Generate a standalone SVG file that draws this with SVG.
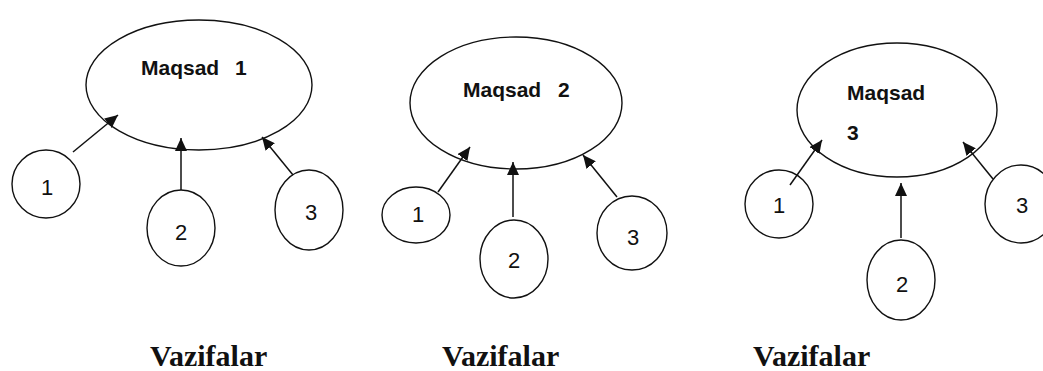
<svg xmlns="http://www.w3.org/2000/svg" width="1043" height="371" viewBox="0 0 1043 371">
<style>
.shape{fill:#fff;stroke:#111;stroke-width:1.4}
.goal{font-family:"Liberation Sans",Arial,sans-serif;font-weight:bold;font-size:21px;fill:#111}
.num{font-family:"Liberation Sans",Arial,sans-serif;font-size:22px;fill:#111;text-anchor:middle}
.cap{font-family:"Liberation Serif","Times New Roman",serif;font-weight:bold;font-size:30px;fill:#111}
.conn{stroke:#111;stroke-width:1.5;fill:none;marker-end:url(#ah)}
</style>
<defs>
<marker id="ah" markerUnits="userSpaceOnUse" markerWidth="14" markerHeight="12" refX="13" refY="6" orient="auto">
<path d="M0,0 L13,6 L0,12 Z" fill="#111"/>
</marker>
</defs>
<rect width="1043" height="371" fill="#fff"/>
<g id="goal1"><ellipse class="shape" cx="199" cy="85" rx="113" ry="65"/><text class="goal" x="141" y="75">Maqsad</text><text class="goal" x="235" y="75" font-size="23">1</text></g>
<g id="goal2"><ellipse class="shape" cx="516" cy="103" rx="106" ry="66"/><text class="goal" x="463" y="97">Maqsad</text><text class="goal" x="558" y="97" font-size="23">2</text></g>
<g id="goal3"><ellipse class="shape" cx="897" cy="110" rx="100" ry="67"/><text class="goal" x="847" y="100">Maqsad</text><text class="goal" x="847" y="140">3</text></g>
<g id="g1t1"><ellipse class="shape" cx="46" cy="184" rx="34" ry="34"/><text class="num" x="47" y="195">1</text></g>
<g id="g1t2"><ellipse class="shape" cx="181" cy="228" rx="34" ry="38"/><text class="num" x="181" y="240">2</text></g>
<g id="g1t3"><ellipse class="shape" cx="309" cy="210" rx="34" ry="40"/><text class="num" x="311" y="220">3</text></g>
<g id="g2t1"><ellipse class="shape" cx="416" cy="215" rx="34" ry="28"/><text class="num" x="418" y="222">1</text></g>
<g id="g2t2"><ellipse class="shape" cx="514" cy="259" rx="34" ry="39"/><text class="num" x="514" y="268">2</text></g>
<g id="g2t3"><ellipse class="shape" cx="632" cy="233" rx="35" ry="37"/><text class="num" x="633" y="245">3</text></g>
<g id="g3t1"><ellipse class="shape" cx="779" cy="204" rx="34" ry="34"/><text class="num" x="779" y="213">1</text></g>
<g id="g3t2"><ellipse class="shape" cx="901" cy="280" rx="34" ry="40"/><text class="num" x="902" y="292">2</text></g>
<g id="g3t3"><ellipse class="shape" cx="1021" cy="204" rx="36" ry="39"/><text class="num" x="1022" y="213">3</text></g>
<g id="connectors">
<line class="conn" x1="73" y1="152" x2="118" y2="115"/>
<line class="conn" x1="181" y1="190" x2="181" y2="138"/>
<line class="conn" x1="293" y1="175" x2="262" y2="137"/>
<line class="conn" x1="438" y1="192" x2="470" y2="147"/>
<line class="conn" x1="513" y1="217" x2="513" y2="162"/>
<line class="conn" x1="617" y1="197" x2="583" y2="155"/>
<line class="conn" x1="790" y1="185" x2="822" y2="140"/>
<line class="conn" x1="901" y1="238" x2="901" y2="183"/>
<line class="conn" x1="993" y1="179" x2="963" y2="142"/>
</g>
<g id="labels">
<text class="cap" x="150" y="366">Vazifalar</text>
<text class="cap" x="442" y="366">Vazifalar</text>
<text class="cap" x="753" y="366">Vazifalar</text>
</g>
</svg>
